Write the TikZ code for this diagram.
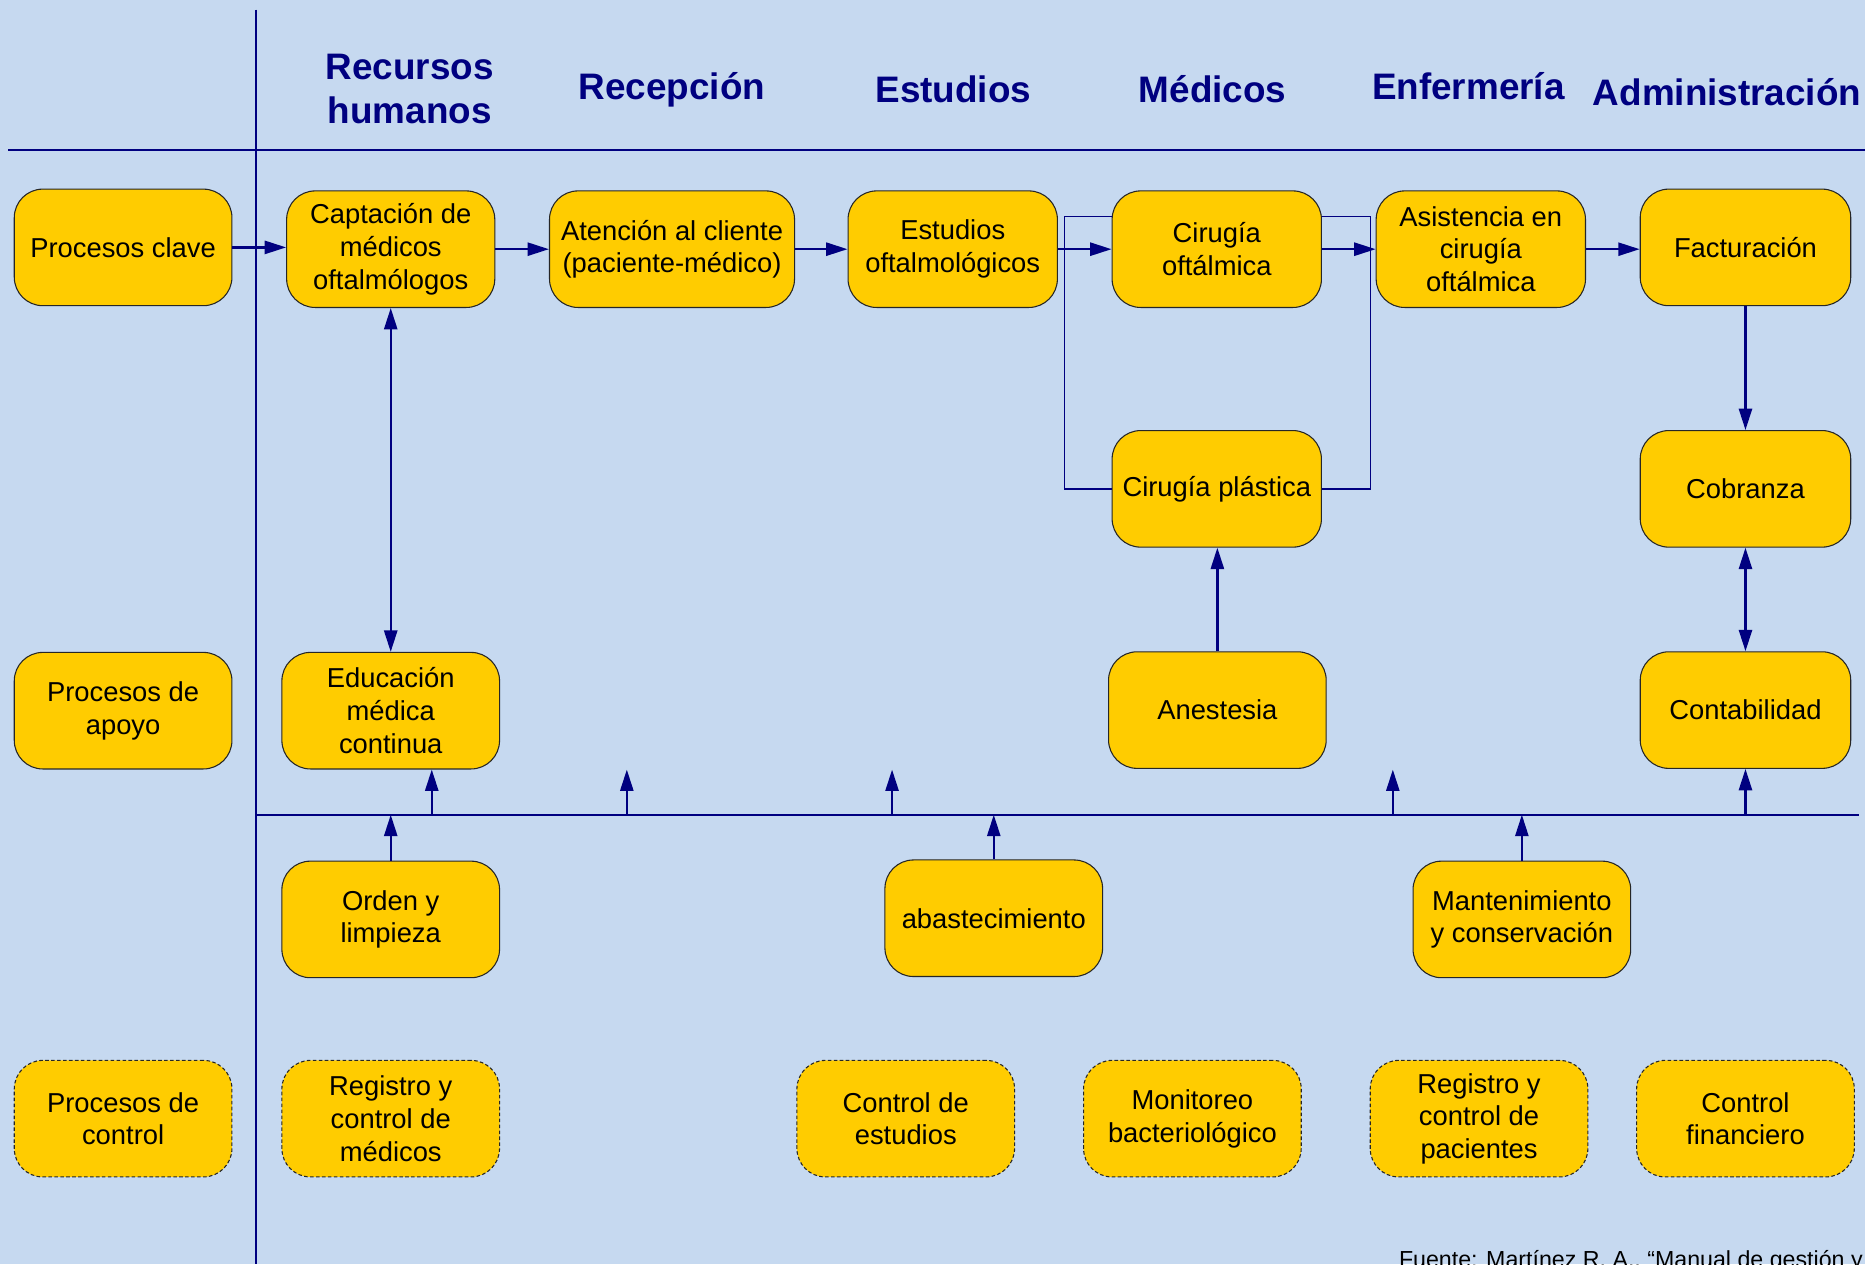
\documentclass[tikz,border=0pt]{standalone}
\usepackage{fontspec}
\setmainfont{Liberation Sans}
\usetikzlibrary{arrows.meta,calc}
\definecolor{bgblue}{HTML}{C6D9F0}
\definecolor{navyc}{HTML}{000080}
\definecolor{goldc}{HTML}{FFCC00}
\begin{document}
\begin{tikzpicture}[x=1pt,y=-1pt,
  box/.style={draw=black!85, line width=0.9pt, fill=goldc, rounded corners=24pt,
    minimum width=#1, minimum height=98pt, align=center, inner sep=2pt,
    font=\fontsize{23}{27.5}\selectfont},
  box/.default=183pt,
  dbox/.style={box=#1, dash pattern=on 3pt off 2pt},
  dbox/.default=183pt,
  hdr/.style={text=navyc, align=center, font=\fontsize{31}{37}\selectfont\bfseries},
  lane/.style={draw=navyc, line width=2pt},
  arr/.style={draw=navyc, line width=2pt, -{Triangle[length=18pt,width=11pt]}},
  darr/.style={draw=navyc, line width=2pt, {Triangle[length=18pt,width=11pt]}-{Triangle[length=18pt,width=11pt]}},
  thinl/.style={draw=navyc, line width=1.2pt}]
\useasboundingbox (0,0) rectangle (1568,1063);
\clip (0,0) rectangle (1568,1063);
\fill[bgblue] (0,0) rectangle (1568,1063);

% frame lines
\draw[lane] (215,8) -- (215,1063);
\draw[lane] (7,126) -- (1568,126);
\coordinate (mL) at (215,685);
\coordinate (mR) at (1563,685);
\draw[lane] (mL) -- (mR);

% headers
\node[hdr, anchor=base] (hRH) at (344.5,104) {Recursos\\humanos};
\node[hdr, anchor=base] (hRe) at (565,84) {Recepción};
\node[hdr, anchor=base] (hEs) at (801.5,86) {Estudios};
\node[hdr, anchor=base] (hMe) at (1019.5,86) {Médicos};
\node[hdr, anchor=base] (hEn) at (1234.5,84) {Enfermería};
\node[hdr, anchor=base] (hAd) at (1452,89) {Administración};

% row 1
\node[box] (pc) at (103.5,208) {Procesos clave};
\node[box=175pt] (cap) at (328.5,209.5) {Captación de\\médicos\\oftalmólogos};
\node[box=206pt] (aten) at (565,209.5) {Atención al cliente\\(paciente-médico)};
\node[box=176pt] (est) at (801,209.5) {Estudios\\oftalmológicos};
\node[box=176pt] (cirO) at (1023,209.5) {Cirugía\\oftálmica};
\node[box=176pt] (asis) at (1245,209.5) {Asistencia en\\cirugía\\oftálmica};
\node[box=177pt] (fac) at (1467.5,208) {Facturación};

% row 2
\node[box=176pt] (cirP) at (1023,411) {Cirugía plástica};
\node[box=177pt] (cob) at (1467.5,411) {Cobranza};

% row 3
\node[box] (pa) at (103.5,597.5) {Procesos de\\apoyo};
\node[box] (edu) at (328.5,597.5) {Educación\\médica\\continua};
\node[box] (anes) at (1023.5,597) {Anestesia};
\node[box=177pt] (cont) at (1467.5,597) {Contabilidad};

% row 4
\node[box] (ord) at (328.5,773) {Orden y\\limpieza};
\node[box] (abast) at (835.5,772) {abastecimiento};
\node[box] (mant) at (1279.5,773) {Mantenimiento\\y conservación};

% row 5 (control)
\node[dbox] (pctl) at (103.5,940.5) {Procesos de\\control};
\node[dbox] (reg1) at (328.5,940.5) {Registro y\\control de\\médicos};
\node[dbox] (cest) at (761.5,940.5) {Control de\\estudios};
\node[dbox] (mon) at (1002.5,940.5) {Monitoreo\\bacteriológico};
\node[dbox] (reg2) at (1243.5,940.5) {Registro y\\control de\\pacientes};
\node[dbox] (cfin) at (1467.5,940.5) {Control\\financiero};

% thin surgery loop
\draw[thinl] ([yshift=27.5pt]cirO.west) -| (895,411) -- (cirP.west);
\draw[thinl] ([yshift=27.5pt]cirO.east) -| (1152,411) -- (cirP.east);

% main flow
\draw[arr] (pc) -- (pc -| cap.west);
\draw[arr] (cap) -- (aten);
\draw[arr] (aten) -- (est);
\draw[arr] (est) -- (cirO);
\draw[arr] (cirO) -- (asis);
\draw[arr] (asis) -- (asis -| fac.west);
\draw[arr] (fac) -- (cob);
\draw[darr] (cob) -- (cont);
\draw[darr] (cap) -- (edu);
\draw[arr] (anes.north) -- (anes.north |- cirP.south);

% support line arrows
\coordinate (t1) at (527,647);
\coordinate (t2) at (750,647);
\coordinate (t3) at (1171,647);
\draw[arr] (ord.north) -- (ord.north |- mL);
\draw[arr] ([xshift=34.5pt]edu.south |- mL) -- ([xshift=34.5pt]edu.south);
\draw[arr] (t1 |- mL) -- (t1);
\draw[arr] (t2 |- mL) -- (t2);
\draw[arr] (t3 |- mL) -- (t3);
\draw[arr] (cont.south |- mL) -- (cont.south);
\draw[arr] (abast.north) -- (abast.north |- mL);
\draw[arr] (mant.north) -- (mant.north |- mL);

% source note (cut by the edge, as in the reference)
\node[anchor=base west, inner sep=0pt, font=\fontsize{19.5}{23}\selectfont] (src) at (1176,1066) {Fuente: Martínez R. A., “Manual de gestión y};
\end{tikzpicture}
\end{document}
